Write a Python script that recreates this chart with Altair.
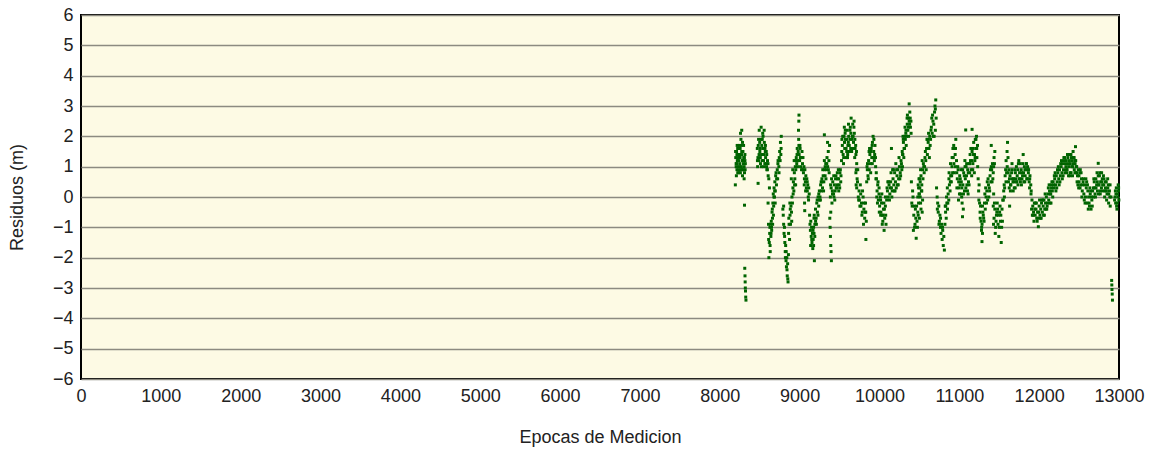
import altair as alt
import pandas as pd

A_x = [8195,8200,8205,8210,8215,8220,8225,8230,8235,8240,8245,8250,8255,8260,8265,8270,8275,8280,8285,8290,8295,8300,8305,8310,8315,8320,8205,8215,8225,8235,8245,8255,8265,8275,8285,8295,8305,8315]
A_y = [0.4,1.3,1.1,1.5,0.9,1.2,1.6,1.0,1.4,0.8,1.7,1.1,1.3,2.1,1.9,1.0,2.2,1.2,0.7,1.5,0.9,1.3,1.0,0.8,1.4,1.1,1.0,1.4,0.8,1.2,1.3,1.6,0.9,1.5,1.8,1.1,0.6,1.2]
A3_x = [8198,8208,8218,8228,8238,8248,8258,8268,8278,8288,8298,8308,8318,8212,8232,8252,8272,8292]
A3_y = [1.5,0.7,1.7,1.3,0.9,1.4,0.8,1.7,0.9,1.2,1.7,1.3,0.9,1.1,1.6,1.0,1.4,1.2]
A2_x = [8310,8313,8316,8318,8320,8322,8325,8328]
A2_y = [-0.27,-2.35,-2.6,-2.8,-3.0,-3.1,-3.3,-3.4]
B_x = [8470,8478,8486,8494,8502,8510,8518,8526,8534,8542,8550,8558,8566,8574,8582,8590,8598,8606,8614,8622,8474,8490,8506,8522,8538,8554,8570,8586,8480]
B_y = [1.6,1.3,1.9,2.2,1.5,1.1,2.3,1.7,1.2,2.0,1.4,1.8,1.6,1.3,1.5,0.9,1.2,0.7,0.6,0.3,1.0,1.2,1.6,1.0,2.1,1.0,1.5,1.0,0.45]
B2_x = [8472,8482,8492,8500,8508,8516,8524,8532,8540,8548,8556,8564,8572,8580,8588,8596,8604]
B2_y = [1.2,1.7,1.4,1.8,1.3,1.9,1.4,1.9,1.6,1.2,2.2,1.1,1.7,1.1,1.4,0.9,1.1]
C_x = [8605,8610,8615,8620,8625,8630,8635,8640,8645,8650,8655,8660,8665,8670,8675,8680,8685,8690,8695,8700,8710,8720,8730,8740,8750,8760,8770,8612,8628,8642,8658,8672,8688,8705,8725,8745,8765]
C_y = [-0.2,-0.9,-2.0,-1.5,-1.2,-1.6,-0.9,-1.3,-0.8,-1.1,-0.5,-0.7,-0.2,0.1,-0.3,0.3,0.0,0.5,0.2,0.7,0.4,0.9,1.2,1.0,1.5,1.8,2.0,-1.4,-1.0,-1.2,-0.4,-0.6,0.2,0.8,0.6,1.3,1.4]
C2_x = [8632,8648,8662,8678,8694,8712,8728,8742,8756,8768]
C2_y = [-1.8,-1.0,-0.9,0.0,-0.2,0.6,1.1,0.8,1.2,1.6]
D_x = [8790,8795,8800,8805,8810,8815,8820,8825,8830,8835,8840,8845,8850,8855,8860,8800,8812,8822,8832,8842,8852]
D_y = [-0.4,-0.6,-0.9,-1.2,-1.0,-1.5,-1.8,-1.6,-2.1,-2.3,-2.0,-2.6,-2.2,-2.8,-1.9,-0.3,-1.3,-2.0,-1.8,-2.4,-2.7]
E_x = [8862,8868,8874,8880,8886,8892,8898,8904,8910,8916,8922,8928,8934,8940,8946,8952,8958,8964,8970,8976,8982,8988,8994,9000,9006,9012,9018,9024,8878,8896,8914,8932,8950,8968,8986,9004,8990,8992]
E_y = [-1.2,-0.9,-1.4,-0.6,-0.9,-0.3,-0.5,0.0,-0.2,0.3,0.5,0.2,0.8,0.6,1.0,0.9,1.3,1.1,1.6,1.2,1.5,1.9,1.4,1.2,1.6,1.0,1.3,0.9,-0.2,0.6,0.9,1.2,0.4,1.4,2.2,1.7,2.5,2.7]
E3_x = [8865,8883,8901,8919,8937,8955,8973,8991,9009]
E3_y = [-0.7,-0.4,-0.8,0.1,0.4,1.2,1.0,1.7,1.3]
E2_x = [9030,9036,9042,9048,9054,9060,9066,9072,9078,9084,9090,9096,9102,9108,9114,9120,9040,9058,9075,9095,9112,9062,9064]
E2_y = [1.5,1.1,1.3,0.8,1.0,0.6,0.9,0.5,0.7,0.3,0.6,0.2,0.4,0.0,0.3,0.1,0.9,0.4,0.2,0.5,-0.1,-0.2,-0.45]
F_x = [9125,9130,9135,9140,9145,9150,9155,9160,9165,9170,9175,9180,9185,9138,9152,9168]
F_y = [-0.6,-0.9,-1.1,-0.8,-1.3,-1.0,-1.5,-1.2,-1.7,-1.4,-1.6,-1.2,-2.1,-1.6,-1.4,-1.1]
G_x = [9175,9183,9191,9199,9207,9215,9223,9231,9239,9247,9255,9263,9271,9279,9287,9295,9303,9311,9319,9327,9335,9343,9351,9359,9367,9375,9190,9210,9230,9250,9270,9290,9310,9330,9350,9370,9310]
G_y = [-1.0,-0.6,-0.9,-0.4,-0.7,-0.2,-0.5,0.0,-0.3,0.2,0.0,0.4,0.2,0.6,0.3,0.7,0.5,0.9,0.7,1.1,0.9,1.3,1.0,1.5,1.2,1.7,-1.3,-0.9,-0.6,-0.1,0.5,0.9,1.2,0.6,1.8,0.8,2.05]
G2_x = [9180,9200,9220,9240,9260,9280,9300,9320,9340,9360]
G2_y = [-0.7,-0.8,-0.1,0.1,-0.1,0.5,0.2,1.0,1.1,0.9]
H_x = [9378,9382,9386,9390,9394,9398]
H_y = [-0.7,-1.0,-1.3,-1.6,-1.8,-2.1]
I_x = [9385,9395,9405,9415,9425,9435,9445,9455,9465,9475,9485,9495,9505,9515,9390,9410,9430,9450,9470,9490,9510]
I_y = [0.0,0.3,-0.2,0.5,0.1,0.4,0.2,0.7,0.3,0.6,0.9,0.4,0.8,0.5,-0.5,0.2,0.0,0.6,0.4,0.2,0.9]
I2_x = [9388,9400,9412,9428,9440,9458,9472,9488,9502,9518]
I2_y = [0.4,0.6,0.1,0.7,-0.1,0.3,0.8,0.6,0.3,0.7]
J_x = [9525,9535,9545,9555,9565,9575,9585,9595,9605,9615,9625,9635,9645,9655,9665,9675,9685,9695,9705,9715,9530,9550,9570,9590,9610,9630,9650,9670,9690,9710]
J_y = [1.2,1.7,1.4,2.0,1.6,1.9,1.3,2.2,1.7,2.0,1.5,2.3,2.6,1.9,2.4,1.8,2.1,1.6,1.4,1.1,1.9,1.1,2.1,1.5,1.8,2.2,1.6,2.0,1.3,0.9]
J2_x = [9528,9540,9552,9562,9572,9582,9592,9602,9612,9622,9632,9642,9652,9662,9672,9682,9692,9702,9712,9560,9600,9640,9680]
J2_y = [1.5,2.0,1.3,1.8,2.2,1.6,1.9,1.4,2.4,1.7,1.9,2.1,1.5,2.0,1.6,2.5,1.9,1.7,1.5,2.3,1.3,1.6,2.3]
K_x = [9705,9715,9725,9735,9745,9755,9765,9775,9785,9795,9805,9815,9825,9835,9720,9740,9760,9780,9800,9820,9830]
K_y = [0.8,0.3,0.5,0.0,0.2,-0.3,0.1,-0.2,-0.5,0.0,-0.4,-0.7,-0.2,-0.8,0.6,-0.1,0.4,-0.6,-0.9,-0.5,-1.4]
K2_x = [9708,9728,9748,9768,9788,9808,9828]
K2_y = [0.4,0.9,-0.1,-0.3,0.2,-0.2,-0.5]
L_x = [9840,9848,9856,9864,9872,9880,9888,9896,9904,9912,9920,9928,9936,9944,9952,9960,9850,9870,9890,9910,9930,9950]
L_y = [0.5,0.9,0.7,1.2,0.9,1.4,1.1,1.6,1.3,1.8,2.0,1.5,1.2,1.7,1.0,0.8,1.1,1.5,0.8,1.1,1.9,1.3]
L2_x = [9844,9860,9876,9892,9908,9924,9940,9956]
L2_y = [1.0,0.6,1.6,1.5,1.7,1.3,1.4,0.6]
M_x = [9962,9970,9978,9986,9994,10002,10010,10018,10026,10034,10042,10050,10058,10066,10074,10082,9975,9995,10015,10035,10055,10075]
M_y = [0.6,0.2,0.4,-0.1,0.1,-0.3,0.0,-0.5,-0.2,-0.6,-0.8,-0.4,-1.1,-0.7,-0.3,-0.9,-0.2,0.3,-0.6,-0.9,-0.2,0.0]
M2_x = [9966,9982,9998,10014,10030,10046,10062,10078]
M2_y = [0.0,0.5,-0.5,-0.1,0.1,-0.6,-0.4,-0.6]
N_x = [10090,10100,10110,10120,10130,10140,10150,10160,10170,10180,10190,10200,10210,10220,10230,10240,10250,10260,10270,10280,10290,10105,10125,10145,10165,10185,10205,10225,10245,10265,10285,10150]
N_y = [-0.1,0.2,0.0,0.4,0.1,0.5,0.3,0.2,0.6,0.4,0.8,0.5,0.3,0.7,0.9,0.6,1.0,0.8,1.2,0.9,1.4,0.5,-0.1,0.8,0.9,0.2,1.1,0.4,1.3,0.7,1.5,1.6]
N2_x = [10095,10115,10135,10155,10175,10195,10215,10235,10255,10275,10288]
N2_y = [0.3,0.5,0.3,0.0,0.9,0.2,0.9,0.4,0.6,1.1,1.0]
O_x = [10292,10300,10308,10316,10324,10332,10340,10348,10356,10364,10372,10380,10388,10396,10298,10314,10330,10346,10362,10378,10372]
O_y = [1.4,1.8,1.6,2.0,1.9,2.2,2.0,2.4,2.2,2.6,2.5,2.8,2.3,2.1,1.9,1.6,2.1,2.6,2.3,2.4,3.07]
O2_x = [10295,10305,10320,10335,10350,10365,10385,10394]
O2_y = [2.0,1.3,2.3,1.7,2.7,2.0,2.6,2.5]
P_x = [10400,10410,10420,10430,10440,10450,10460,10470,10480,10490,10500,10510,10520,10530,10540,10405,10425,10445,10465,10485,10505]
P_y = [0.5,-0.3,0.0,-0.6,-1.0,-0.4,-1.36,-0.8,-0.5,-0.2,-0.7,0.0,-0.4,0.2,-0.1,-0.2,-1.1,-0.9,-0.3,-0.6,0.3]
P2_x = [10415,10435,10455,10475,10495,10515,10535]
P2_y = [0.2,-0.3,-0.7,-1.0,0.1,-0.2,-0.5]
Q_x = [10480,10490,10500,10510,10520,10530,10540,10550,10560,10570,10580,10590,10600,10610,10620,10630,10640,10650,10660,10670,10680,10690,10700,10710,10495,10515,10535,10555,10575,10595,10615,10635,10655,10675,10695,10705]
Q_y = [0.0,0.3,0.1,0.5,0.7,0.4,0.9,1.1,0.8,1.3,1.2,1.6,1.4,1.8,1.6,2.0,1.9,2.3,2.1,2.5,2.4,2.8,2.2,2.6,0.6,0.9,1.2,1.0,1.5,1.9,2.1,1.7,2.6,2.0,3.0,3.2]
Q2_x = [10485,10505,10525,10545,10565,10585,10605,10625,10645,10665,10685,10700]
Q2_y = [0.4,0.6,0.2,0.6,1.0,0.9,1.9,1.3,2.2,2.7,2.0,2.9]
R_x = [10715,10722,10729,10736,10743,10750,10757,10764,10771,10778,10785,10792,10799,10806,10813,10725,10745,10765,10790]
R_y = [0.3,0.0,-0.2,-0.5,-0.3,-0.8,-0.6,-1.0,-1.2,-0.9,-1.4,-1.1,-1.6,-1.3,-1.75,-0.4,-0.9,-0.7,-1.0]
S_x = [10820,10828,10836,10844,10852,10860,10868,10876,10884,10892,10900,10908,10916,10924,10932,10940,10948,10956,10830,10850,10870,10890,10910,10930,10950]
S_y = [-0.9,-0.5,-0.7,-0.2,-0.4,0.1,-0.1,0.4,0.2,0.7,0.5,1.0,0.8,1.3,1.1,1.6,1.4,1.9,-0.3,0.3,0.6,1.1,1.3,1.7,1.0]
S2_x = [10824,10840,10856,10872,10888,10904,10920,10936,10952]
S2_y = [-0.3,0.0,-0.2,0.8,0.5,0.7,1.6,0.8,1.6]
T_x = [10965,10975,10985,10995,11005,11015,11025,11035,11045,11055,11065,11075,11085,11095,11105,11115,11125,10970,10990,11010,11030,11050,11070,11090,11110,11080,11040]
T_y = [1.2,0.6,0.9,0.3,0.7,0.1,0.5,-0.2,0.4,0.8,0.2,0.6,1.0,0.4,0.9,0.5,1.1,0.3,-0.1,0.4,0.0,-0.4,1.2,0.7,0.1,2.21,-0.65]
T2_x = [10968,10980,10992,11002,11012,11022,11032,11042,11052,11062,11072,11082,11092,11102,11112,11122]
T2_y = [0.8,1.0,0.5,0.1,0.6,0.9,0.3,0.9,0.1,0.7,1.0,0.3,1.1,0.2,0.8,0.4]
U_x = [11130,11140,11150,11160,11170,11180,11190,11200,11210,11220,11230,11135,11155,11175,11195,11215,11160]
U_y = [0.8,1.2,0.9,1.5,1.1,1.8,1.4,1.9,1.6,1.3,1.0,1.4,0.7,1.6,1.2,2.0,2.23]
U2_x = [11132,11145,11158,11168,11178,11188,11198,11208,11218,11228]
U2_y = [1.1,1.6,1.2,0.9,1.4,0.8,1.3,1.9,1.6,1.7]
V_x = [11236,11242,11248,11254,11260,11266,11272,11278,11284,11290,11245,11262,11280]
V_y = [0.6,0.2,0.4,-0.2,-0.5,-0.3,-0.8,-1.1,-1.47,-1.2,-0.1,-0.7,-1.0]
W_x = [11285,11295,11305,11315,11325,11335,11345,11355,11365,11375,11385,11395,11405,11415,11425,11435,11445,11300,11320,11340,11360,11380,11400,11420,11440,11400]
W_y = [-0.9,-0.5,-0.7,-0.2,-0.4,0.0,0.2,-0.1,0.4,0.3,0.7,0.5,0.9,1.1,0.8,1.3,1.5,-0.6,0.1,-0.2,0.6,0.2,1.0,0.6,1.1,1.7]
W2_x = [11290,11310,11330,11350,11370,11390,11410,11430]
W2_y = [-0.3,-0.8,0.3,0.5,0.0,0.9,0.5,1.0]
X_x = [11425,11435,11445,11455,11465,11475,11485,11495,11505,11515,11525,11535,11545,11430,11450,11470,11490,11510,11530]
X_y = [-0.3,-0.7,-0.4,-1.0,-0.6,-0.2,-0.9,-1.3,-0.5,-0.8,-1.5,-0.4,-0.1,0.1,-1.2,-0.5,-0.6,-0.3,-1.0]
X2_x = [11428,11440,11460,11480,11500,11520,11540]
X2_y = [-0.9,-0.2,-0.8,-0.4,-1.0,-0.6,-0.8]
Y_x = [11550,11556,11562,11568,11574,11580,11586,11592,11598,11604,11610,11565,11585,11600]
Y_y = [-0.1,0.2,0.4,0.3,0.7,0.9,1.2,0.8,1.5,1.8,1.3,0.0,0.5,1.0]
Z_x = [11615,11625,11635,11645,11655,11665,11675,11685,11695,11705,11715,11725,11735,11745,11755,11765,11775,11785,11795,11805,11815,11825,11835,11845,11855,11865,11875,11885,11895,11620,11640,11660,11680,11700,11720,11740,11760,11780,11800,11820,11840,11860,11880,11630]
Z_y = [0.5,0.3,0.7,0.4,0.8,0.6,0.2,0.5,0.9,0.6,1.0,0.7,0.4,1.2,0.8,0.5,0.9,0.6,1.1,0.8,1.0,0.7,0.9,0.6,1.0,0.8,0.5,0.7,0.4,0.9,0.2,1.1,0.6,0.3,0.5,1.1,0.6,0.8,1.4,0.5,1.1,0.9,0.3,-0.3]
Z2_x = [11612,11628,11642,11658,11672,11688,11702,11718,11732,11748,11762,11778,11792,11808,11822,11838,11852,11868,11882,11898]
Z2_y = [0.8,0.6,0.4,0.9,0.5,0.3,0.8,0.5,0.9,0.6,1.1,0.4,0.7,0.5,0.9,1.1,0.6,0.9,0.6,0.1]
AA_x = [11900,11910,11920,11930,11940,11950,11960,11970,11980,11990,12000,12010,12020,12030,12040,12050,12060,12070,12080,12090,12100,12110,12120,12130,12140,11915,11935,11955,11975,11995,12015,12035,12055,12075,12095,12115,12135]
AA_y = [0.2,-0.1,-0.3,-0.5,-0.2,-0.6,-0.4,-0.7,-0.5,-0.98,-0.3,-0.6,-0.4,-0.2,-0.5,-0.3,-0.1,-0.4,-0.2,0.0,-0.3,0.1,-0.1,0.2,0.1,-0.6,-0.8,-0.2,-0.8,-0.5,-0.7,-0.1,-0.6,0.1,-0.4,0.3,-0.2]
AA2_x = [11905,11925,11945,11965,11985,12005,12025,12045,12065,12085,12105,12125]
AA2_y = [-0.4,-0.6,-0.4,-0.2,-0.7,-0.1,-0.7,-0.1,-0.6,-0.4,-0.2,0.4]
BB_x = [12145,12155,12165,12175,12185,12195,12205,12215,12225,12235,12245,12255,12265,12275,12285,12295,12305,12315,12325,12335,12150,12170,12190,12210,12230,12250,12270,12290,12310,12330]
BB_y = [0.1,0.3,0.2,0.5,0.3,0.6,0.4,0.7,0.5,0.8,0.6,0.9,0.7,1.0,0.8,1.1,0.9,1.2,0.8,1.0,0.4,0.0,0.7,0.2,0.9,0.4,1.1,0.6,1.3,1.1]
BB2_x = [12148,12160,12180,12200,12220,12240,12260,12280,12300,12320]
BB2_y = [-0.2,0.5,0.4,0.8,0.3,1.0,0.5,1.2,0.7,1.3]
CC_x = [12340,12350,12360,12370,12380,12390,12400,12410,12420,12430,12440,12450,12460,12345,12365,12385,12405,12425,12445,12465,12455]
CC_y = [1.2,0.9,1.3,1.0,1.4,1.1,0.8,1.2,1.0,1.3,0.9,1.1,0.8,0.8,1.1,0.7,1.3,1.5,1.2,1.0,1.66]
CC2_x = [12342,12355,12368,12378,12388,12398,12408,12418,12428,12438,12448,12458]
CC2_y = [0.9,1.4,0.7,1.2,0.8,1.4,1.0,0.7,1.1,1.3,0.8,1.2]
DD_x = [12470,12480,12490,12500,12510,12520,12530,12540,12550,12560,12570,12580,12590,12600,12610,12620,12630,12640,12650,12660,12670,12475,12495,12515,12535,12555,12575,12595,12615,12635,12655]
DD_y = [1.0,0.7,0.9,0.5,0.8,0.4,0.6,0.2,0.5,0.1,0.4,0.0,0.3,-0.2,0.2,0.0,-0.3,0.1,-0.4,-0.1,0.2,0.5,0.3,0.9,0.0,0.6,-0.2,0.5,-0.4,0.3,0.0]
DD2_x = [12472,12485,12498,12512,12525,12545,12565,12585,12605,12625,12645,12665]
DD2_y = [0.8,0.4,0.7,0.3,0.8,0.4,-0.1,0.6,0.4,-0.2,0.2,-0.3]
EE_x = [12680,12690,12700,12710,12720,12730,12740,12750,12760,12770,12780,12790,12800,12810,12820,12830,12840,12850,12860,12870,12880,12890,12900,12685,12705,12725,12745,12765,12785,12805,12825,12845,12865,12885,12740]
EE_y = [0.3,0.5,0.1,0.6,0.4,0.2,0.7,0.4,0.8,0.5,0.3,0.6,0.2,0.4,0.0,0.3,0.5,0.1,0.3,-0.2,0.2,-0.3,0.0,0.6,0.0,0.8,0.4,0.1,0.5,0.7,0.2,-0.1,0.4,0.0,1.11]
EE2_x = [12682,12695,12712,12728,12742,12755,12768,12782,12795,12812,12828,12842,12858,12872,12888]
EE2_y = [0.0,0.3,0.3,0.5,0.1,0.7,0.2,0.8,0.4,0.6,0.5,0.2,0.6,0.1,0.4]
FF_x = [12908,12910,12912,12915,12918]
FF_y = [-2.75,-2.9,-3.05,-3.2,-3.4]
GG_x = [12950,12958,12966,12974,12982,12990,12998,12955,12970,12985,12995,12945,12962,12978,12993]
GG_y = [0.0,-0.2,0.3,-0.4,0.1,0.4,-0.1,0.2,-0.3,0.0,0.3,-0.1,0.1,-0.2,0.2]

segments = [(A_x, A_y), (A3_x, A3_y), (A2_x, A2_y), (B_x, B_y), (B2_x, B2_y),
            (C_x, C_y), (C2_x, C2_y), (D_x, D_y), (E_x, E_y), (E3_x, E3_y),
            (E2_x, E2_y), (F_x, F_y), (G_x, G_y), (G2_x, G2_y), (H_x, H_y),
            (I_x, I_y), (I2_x, I2_y), (J_x, J_y), (J2_x, J2_y), (K_x, K_y),
            (K2_x, K2_y), (L_x, L_y), (L2_x, L2_y), (M_x, M_y), (M2_x, M2_y),
            (N_x, N_y), (N2_x, N2_y), (O_x, O_y), (O2_x, O2_y), (P_x, P_y),
            (P2_x, P2_y), (Q_x, Q_y), (Q2_x, Q2_y), (R_x, R_y), (S_x, S_y),
            (S2_x, S2_y), (T_x, T_y), (T2_x, T2_y), (U_x, U_y), (U2_x, U2_y),
            (V_x, V_y), (W_x, W_y), (W2_x, W2_y), (X_x, X_y), (X2_x, X2_y),
            (Y_x, Y_y), (Z_x, Z_y), (Z2_x, Z2_y), (AA_x, AA_y), (AA2_x, AA2_y),
            (BB_x, BB_y), (BB2_x, BB2_y), (CC_x, CC_y), (CC2_x, CC2_y),
            (DD_x, DD_y), (DD2_x, DD2_y), (EE_x, EE_y), (EE2_x, EE2_y),
            (FF_x, FF_y), (GG_x, GG_y)]

xs, ys = [], []
for sx, sy in segments:
    n = min(len(sx), len(sy))
    xs += sx[:n]
    ys += sy[:n]
df = pd.DataFrame({"epoca": xs, "residuo": ys})

x_ticks = list(range(0, 13001, 1000))
y_ticks = list(range(-6, 7))

FONT = "Liberation Sans"

chart = alt.Chart(df).mark_square(size=9, color="#006400", opacity=1).encode(
    x=alt.X("epoca:Q", scale=alt.Scale(domain=[0, 13000], nice=False, zero=False),
            axis=alt.Axis(values=x_ticks, grid=False, ticks=False, domain=False, format="d",
                          title="Epocas de Medicion", labelPadding=8,
                          titleY=58, titleBaseline="middle", titleFontWeight="normal",
                          labelFlush=False)),
    y=alt.Y("residuo:Q", scale=alt.Scale(domain=[-6, 6], nice=False),
            axis=alt.Axis(values=y_ticks, grid=True, ticks=False, domain=False,
                          title="Residuos (m)", labelPadding=8,
                          titleX=-64, titleY=182, titleAngle=-90, titleAlign="center",
                          titleBaseline="middle", titleFontWeight="normal",
                          gridColor="#8c8a80", gridWidth=1.3)),
).properties(
    width=1038, height=364,
    autosize=alt.AutoSizeParams(type="none"),
    padding={"left": 81, "top": 15, "right": 39, "bottom": 73},
    background="white",
).configure_view(
    fill="#FDFAE4", stroke="black", strokeWidth=2
).configure_axis(
    labelFont=FONT, titleFont=FONT, labelFontSize=18, titleFontSize=18,
    labelColor="#222222", titleColor="#222222"
)

chart.save("out.html", embed_options={"renderer": "svg", "actions": False})
